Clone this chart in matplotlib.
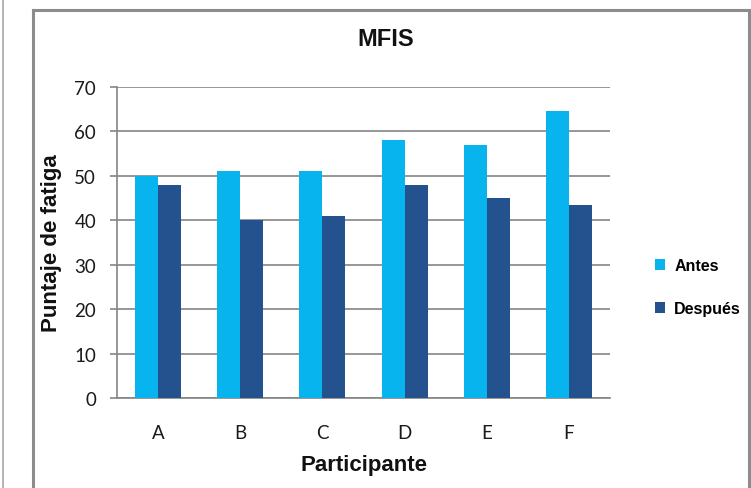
import matplotlib
matplotlib.use("Agg")
import matplotlib.pyplot as plt
from matplotlib.patches import Patch
from matplotlib.lines import Line2D
import numpy as np

participants = ["A", "B", "C", "D", "E", "F"]
antes = [50, 51, 51, 58, 57, 64.6]
despues = [48, 40, 41, 48, 45, 43.4]
series_labels = ["Antes", "Después"]
y_ticks = [0, 10, 20, 30, 40, 50, 60, 70]

W, H = 751, 489
fig = plt.figure(figsize=(W / 100, H / 100), dpi=100)
fig.patch.set_facecolor("white")

ax = fig.add_axes([117 / W, 1 - 399 / H, (610 - 117) / W, (399 - 87.7) / H])

c_antes = "#07B4EE"
c_desp = "#23528F"
x = np.arange(len(participants))
bw = 0.28
ax.bar(x - bw / 2, antes, bw, color=c_antes, zorder=3)
ax.bar(x + bw / 2, despues, bw, color=c_desp, zorder=3)

ax.set_xlim(-0.5, 5.5)
ax.set_ylim(0, 70)
ax.set_yticks(y_ticks)
ax.set_xticks(x)
ax.set_xticklabels(participants)

grid_c = "#858585"
ax.yaxis.grid(True, color=grid_c, linewidth=1.2, zorder=0)
ax.set_axisbelow(True)
for s in ["top", "right"]:
    ax.spines[s].set_visible(False)
ax.spines["left"].set_color(grid_c)
ax.spines["left"].set_linewidth(1.2)
ax.spines["bottom"].set_color(grid_c)
ax.spines["bottom"].set_linewidth(1.2)

ax.tick_params(axis="y", length=5, width=1.2, color=grid_c, pad=10, labelcolor="#1a1a1a")
ax.tick_params(axis="x", length=0, pad=19, labelcolor="#1a1a1a")
for lab in ax.get_yticklabels() + ax.get_xticklabels():
    lab.set_fontfamily(["Lato", "DejaVu Sans"])
    lab.set_fontsize(13.5)

ax.set_ylabel("Puntaje de fatiga", fontsize=16, fontweight="bold",
              family=["Liberation Sans", "DejaVu Sans"], labelpad=9, color="#111")
ax.set_xlabel("Participante", fontsize=16, fontweight="bold",
              family=["Liberation Sans", "DejaVu Sans"], labelpad=9, color="#111")

fig.text(386 / W, 1 - 40 / H, "MFIS", fontsize=17, fontweight="bold",
         family=["Liberation Sans", "DejaVu Sans"], ha="center", va="center", color="#111")

handles = [Patch(facecolor=c_antes, edgecolor="none"), Patch(facecolor=c_desp, edgecolor="none")]
leg = fig.legend(handles, series_labels, loc="center left",
                 bbox_to_anchor=(655 / W, 1 - 288 / H), frameon=False,
                 borderaxespad=0, borderpad=0, handlelength=0.65, handleheight=0.65,
                 handletextpad=0.55, labelspacing=1.75,
                 prop=dict(family=["Liberation Sans", "DejaVu Sans"], weight="bold", size=11.5))

# frame lines
fc = "#8c8c8c"
fig.add_artist(Line2D([33 / W, 33 / W], [0, 1 - 11 / H], color=fc, lw=2.2, transform=fig.transFigure))
fig.add_artist(Line2D([33 / W, 749 / W], [1 - 11 / H, 1 - 11 / H], color=fc, lw=2.2, transform=fig.transFigure))
fig.add_artist(Line2D([749 / W, 749 / W], [0, 1 - 11 / H], color=fc, lw=2.2, transform=fig.transFigure))
fig.add_artist(Line2D([2.5 / W, 2.5 / W], [0, 1], color="#a8a8a8", lw=1.2, transform=fig.transFigure))

fig.savefig("out.png", dpi=100)
